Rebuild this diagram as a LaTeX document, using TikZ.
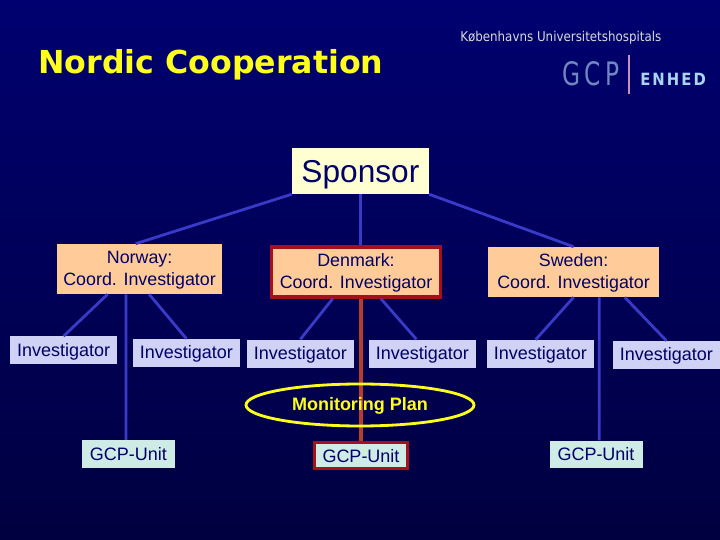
\documentclass[tikz,border=0pt]{standalone}
\usepackage{fontspec}
\usetikzlibrary{positioning,calc,shapes.geometric}
\setmainfont{Liberation Sans}
\newfontfamily\titlefont{DejaVu Sans}
\newfontfamily\logofont[LetterSpace=14,FakeStretch=.72]{DejaVu Sans}
\newfontfamily\enhedfont[LetterSpace=12,FakeStretch=.88]{DejaVu Sans}
\newfontfamily\unifont[FakeStretch=.88]{DejaVu Sans}
\definecolor{ink}{HTML}{000066}
\definecolor{bgtop}{HTML}{000070}
\definecolor{bgmid}{HTML}{0000A0}
\definecolor{bgbot}{HTML}{000040}
\definecolor{creamfill}{HTML}{FFFFD2}
\definecolor{peach}{HTML}{FFCC99}
\definecolor{lilac}{HTML}{CFD2F5}
\definecolor{mint}{HTML}{CFEBE6}
\definecolor{link}{HTML}{3A3AC8}
\definecolor{redline}{HTML}{A50F1E}
\definecolor{redlink}{HTML}{B93C28}
\definecolor{sunny}{HTML}{FFFF1E}
\definecolor{logoblue}{HTML}{7088C0}
\definecolor{logolight}{HTML}{A8D4F0}
\definecolor{logobar}{HTML}{C890B8}
\tikzset{sponsorbox/.style={fill=creamfill,text=ink,inner sep=0pt,text height=20pt,text depth=3pt,minimum width=3.425cm,minimum height=1.15cm,font=\fontsize{22.5}{26}\selectfont},
 coordbox/.style={fill=peach,text=ink,align=center,inner sep=0pt,text depth=1pt,minimum width=4.125cm,minimum height=1.25cm,font=\fontsize{12.7}{15.5}\selectfont},
 invbox/.style={fill=lilac,text=ink,inner sep=0pt,text height=11pt,text depth=2.5pt,minimum width=2.675cm,minimum height=.7cm,font=\fontsize{12.8}{15}\selectfont},
 gcpbox/.style={fill=mint,text=ink,inner sep=0pt,minimum width=2.325cm,minimum height=.69cm,font=\fontsize{12.8}{15}\selectfont},
 redbox/.style={draw=redline,line width=2.2pt},
 linkline/.style={draw=link,line width=2pt},
 redlinkline/.style={draw=redlink,line width=2.4pt}}
\begin{document}
\begin{tikzpicture}[x=1cm,y=1cm]
\shade[top color=bgtop,middle color=bgmid,bottom color=bgbot] (0,0) rectangle (18,13.5);
\useasboundingbox (0,0) rectangle (18,13.5);
% title and logo
\node[anchor=base west,inner sep=0pt,text=sunny,font=\titlefont\bfseries\fontsize{22.5}{26}\selectfont] (title) at (.95,11.67) {Nordic Cooperation};
\node[anchor=base west,inner sep=0pt,text=black!15,font=\unifont\fontsize{9.6}{12}\selectfont] (uni) at (11.5,12.45) {Københavns Universitetshospitals};
\node[anchor=base west,inner sep=0pt,text=logoblue,font=\logofont\fontsize{23}{26}\selectfont] (gcplogo) at (14.05,11.35) {GCP};
\node[anchor=base west,inner sep=0pt,text=logolight,font=\enhedfont\bfseries\fontsize{12}{14}\selectfont] (enhed) at (16,11.37) {ENHED};
\draw[draw=logobar,line width=1pt] (15.72,12.13) coordinate (barup) -- (15.72,11.15) coordinate (bardown);
% boxes
\node[sponsorbox] (spon) at (9.01,9.225) {Sponsor};
\node[coordbox] (nor) at (3.49,6.775) {Norway:\\Coord. Investigator};
\node[coordbox,redbox,minimum width=4.225cm] (den) at (8.9,6.7) {Denmark:\\Coord. Investigator};
\node[coordbox,minimum width=4.275cm] (swe) at (14.34,6.7) {Sweden:\\Coord. Investigator};
\node[invbox] (inv1) at (1.59,4.74) {Investigator};
\node[invbox] (inv2) at (4.66,4.675) {Investigator};
\node[invbox] (inv3) at (7.51,4.66) {Investigator};
\node[invbox] (inv4) at (10.56,4.66) {Investigator};
\node[invbox] (inv5) at (13.51,4.65) {Investigator};
\node[invbox] (inv6) at (16.66,4.625) {Investigator};
\node[gcpbox] (gcp1) at (3.21,2.15) {GCP-Unit};
\node[gcpbox,redbox,minimum width=2.32cm,minimum height=.66cm] (gcp2) at (9.025,2.11) {GCP-Unit};
\node[gcpbox] (gcp3) at (14.9,2.14) {GCP-Unit};
% connectors
\draw[linkline] (spon.south west)--($(nor.north)+(-.1,0)$);
\draw[linkline] (spon.south)--(spon.south |- den.north);
\draw[linkline] (spon.south east)--(swe.north);
\draw[linkline] ($(nor.south)+(-.8,0)$)--(inv1.north);
\draw[linkline] ($(nor.south)+(.24,0)$)--(inv2.north);
\draw[linkline] ($(nor.south)+(-.34,0)$)--($(gcp1.north)+(-.06,0)$);
\draw[linkline] ($(den.south)+(-.58,0)$)--(inv3.north);
\draw[linkline] ($(den.south)+(.62,0)$)--($(inv4.north)+(-.15,0)$);
\draw[linkline] (swe.south)--($(inv5.north)+(-.12,0)$);
\draw[linkline] ($(swe.south)+(.64,0)$)--($(gcp3.north)+(.08,0)$);
\draw[linkline] ($(swe.south)+(1.28,0)$)--(inv6.north);
\draw[redlinkline] (gcp2.north |- den.south)--(gcp2.north);
\node[ellipse,draw=sunny,line width=2pt,inner sep=0pt,text height=11pt,text depth=2.5pt,minimum width=5.7cm,minimum height=1.05cm,text=sunny,font=\bfseries\fontsize{12.8}{14}\selectfont] (plan) at (9,3.375) {Monitoring Plan};
\end{tikzpicture}
\end{document}
